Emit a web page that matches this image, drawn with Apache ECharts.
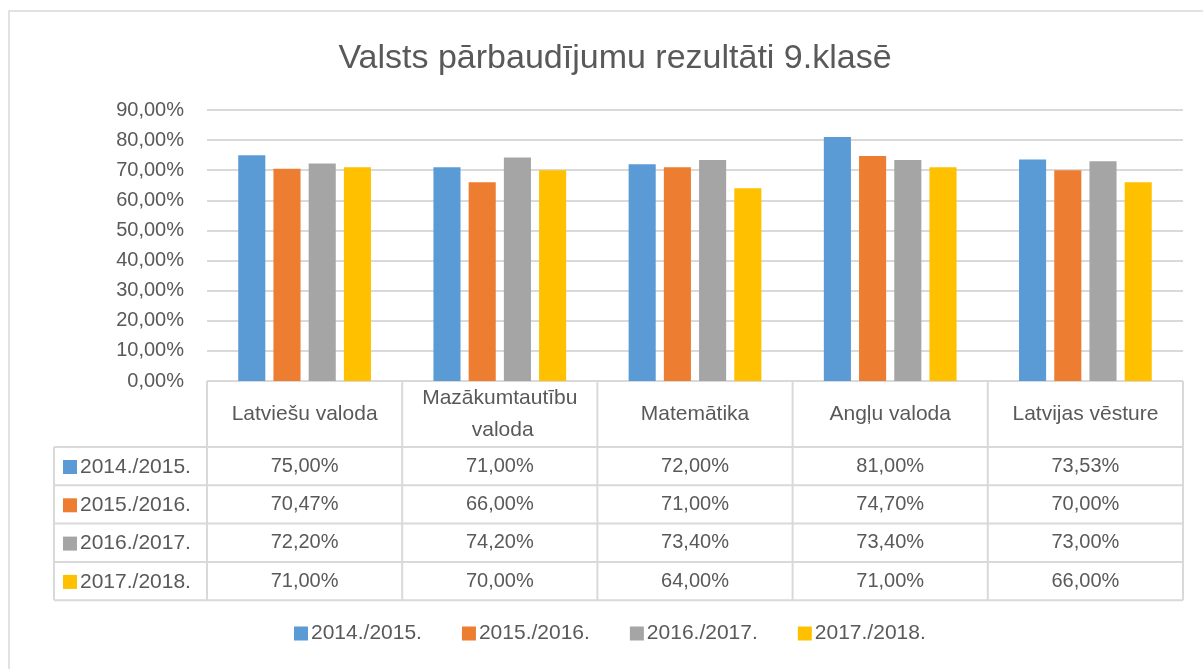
<!DOCTYPE html>
<html>
<head>
<meta charset="utf-8">
<script src="https://cdn.jsdelivr.net/npm/echarts@6/dist/echarts.min.js"></script>
<style>
  html, body { margin: 0; padding: 0; background: #fff; }
  #chart { width: 1203px; height: 669px; }
</style>
</head>
<body>
<div id="chart"></div>
<script>
const subjects = ['Latviešu valoda', 'Mazākumtautību valoda', 'Matemātika', 'Angļu valoda', 'Latvijas vēsture'];
const years = ['2014./2015.', '2015./2016.', '2016./2017.', '2017./2018.'];
const y2014 = [75.00, 71.00, 72.00, 81.00, 73.53];
const y2015 = [70.47, 66.00, 71.00, 74.70, 70.00];
const y2016 = [72.20, 74.20, 73.40, 73.40, 73.00];
const y2017 = [71.00, 70.00, 64.00, 71.00, 66.00];
const yTicks = [0, 10, 20, 30, 40, 50, 60, 70, 80, 90];

const allSeries = [y2014, y2015, y2016, y2017];
const colors = ['#5b9bd5', '#ed7d31', '#a5a5a5', '#ffc000'];
const textColor = '#595959';
const lineColor = '#d9d9d9';
const font = 'Liberation Sans';

const pct = v => v.toFixed(2).replace('.', ',') + '%';

// grid geometry (pixels)
const gL = 207, gR = 1183, gT = 110, gB = 381;
const headH = 66, rowH = 38.3;
const tabLeft = 54;

const chart = echarts.init(document.getElementById('chart'));

const rowAxes = allSeries.map((vals, i) => ({
  type: 'category',
  gridIndex: 0,
  position: 'bottom',
  offset: headH + rowH * i,
  data: vals.map(pct),
  axisLine: { show: false },
  axisTick: { show: false },
  axisLabel: {
    margin: rowH / 2,
    verticalAlign: 'middle',
    color: textColor,
    fontFamily: font,
    fontSize: 20,
    interval: 0
  }
}));

// table borders
const border = [];
const tBottom = gB + headH + rowH * 4;
const colW = (gR - gL) / subjects.length;
for (let c = 0; c <= subjects.length; c++) {
  const x = gL + colW * c;
  border.push({ type: 'line', shape: { x1: x, y1: gB, x2: x, y2: tBottom } });
}
border.push({ type: 'line', shape: { x1: tabLeft, y1: gB + headH, x2: tabLeft, y2: tBottom } });
border.push({ type: 'line', shape: { x1: gL, y1: gB, x2: gR, y2: gB } });
for (let r = 0; r <= 4; r++) {
  const y = gB + headH + rowH * r;
  border.push({ type: 'line', shape: { x1: tabLeft, y1: y, x2: gR, y2: y } });
}
border.forEach(b => { b.style = { stroke: lineColor, lineWidth: 2 }; b.silent = true; });
border.push({
  type: 'rect',
  shape: { x: 9, y: 11, width: 1300, height: 800 },
  style: { fill: 'none', stroke: lineColor, lineWidth: 1.5 },
  silent: true
});

const option = {
  animation: false,
  color: colors,
  title: {
    text: 'Valsts pārbaudījumu rezultāti 9.klasē',
    left: 610,
    textAlign: 'center',
    top: 37,
    textStyle: { color: textColor, fontFamily: font, fontSize: 34, fontWeight: 'normal' }
  },
  legend: [
    {
      data: years,
      top: 618,
      left: 289,
      icon: 'rect',
      itemWidth: 14,
      itemHeight: 14,
      itemGap: 40,
      textStyle: { color: textColor, fontFamily: font, fontSize: 21, padding: [0, 0, 0, -2] }
    },
    {
      data: years,
      orient: 'vertical',
      left: tabLeft + 4,
      top: gB + headH + 4,
      icon: 'rect',
      itemWidth: 14,
      itemHeight: 14,
      itemGap: rowH - 22,
      selectedMode: false,
      textStyle: { color: textColor, fontFamily: font, fontSize: 21, lineHeight: 22, padding: [0, 0, 0, -2] }
    }
  ],
  grid: { left: gL, right: 1203 - gR, top: gT, bottom: 669 - gB, containLabel: false },
  xAxis: [
    {
      type: 'category',
      data: subjects,
      axisLine: { show: false },
      axisTick: { show: false },
      axisLabel: {
        margin: headH / 2,
        verticalAlign: 'middle',
        color: textColor,
        fontFamily: font,
        fontSize: 21,
        lineHeight: 32,
        width: 185,
        overflow: 'break',
        interval: 0
      }
    },
    ...rowAxes
  ],
  yAxis: {
    type: 'value',
    min: yTicks[0],
    max: yTicks[yTicks.length - 1],
    interval: 10,
    axisLine: { show: false },
    axisTick: { show: false },
    splitLine: { lineStyle: { color: lineColor, width: 2 } },
    axisLabel: {
      formatter: v => pct(v),
      color: textColor,
      fontFamily: font,
      fontSize: 20,
      margin: 23
    }
  },
  series: allSeries.map((vals, i) => ({
    name: years[i],
    type: 'bar',
    data: vals,
    barGap: '30%',
    barCategoryGap: '32%',
    itemStyle: { color: colors[i] }
  })),
  graphic: border
};

chart.setOption(option);
</script>
</body>
</html>
